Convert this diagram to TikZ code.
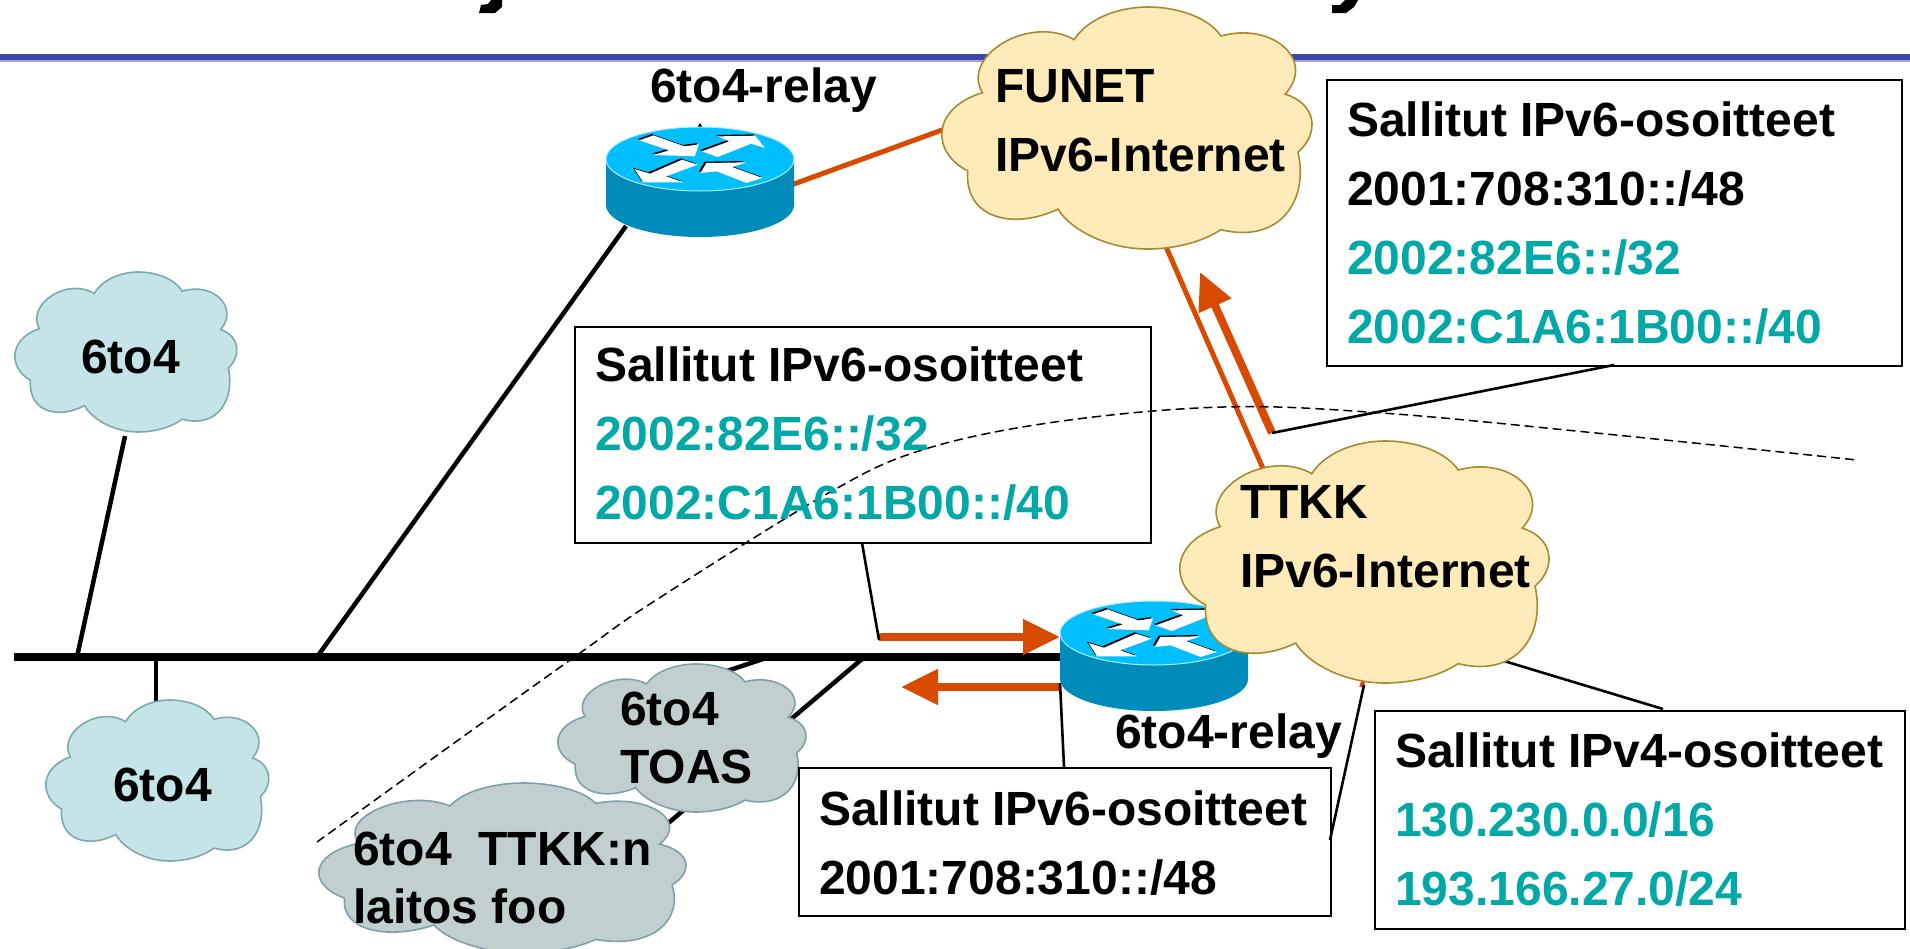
\documentclass[tikz,border=0pt]{standalone}
\usepackage{fontspec}
\setmainfont{Liberation Sans}
\usetikzlibrary{arrows.meta}
\definecolor{orng}{HTML}{D84A00}
\definecolor{teal2}{HTML}{00A8A8}
\definecolor{rule}{HTML}{4444A8}
\definecolor{yfill}{HTML}{FFEBB9}
\definecolor{ystroke}{HTML}{A88A30}
\definecolor{bfill}{HTML}{C5E4E7}
\definecolor{bstroke}{HTML}{7FA8AE}
\definecolor{gfill}{HTML}{C1CFD1}
\definecolor{gstroke}{HTML}{7FA0A6}
\definecolor{rtop}{HTML}{00BFFF}
\definecolor{rbody}{HTML}{008CBB}
\tikzset{
 x=1pt,y=-1pt,
 lab/.style={font=\bfseries\fontsize{48}{69}\selectfont,inner sep=0pt,anchor=north west,align=left,text=black},
 labtight/.style={lab,font=\bfseries\fontsize{48}{57.5}\selectfont},
 infobox/.style={draw=black,line width=2pt,fill=white,inner sep=0pt,anchor=north west},
 thinline/.style={draw=black,line width=2.6pt},
 heavy/.style={draw=black,line width=4.5pt},
 orthin/.style={draw=orng,line width=5pt},
 orarrow/.style={draw=orng,line width=8pt,-{Triangle[length=37pt,width=34pt,fill=orng]}},
}
\newcommand\teal[1]{\textcolor{teal2}{#1}}
% name, x0, y0, w, h, fill, stroke
\newcommand\cloudshape[7]{%
 \pgfmathsetmacro\cx{#4/100}\pgfmathsetmacro\cy{#5/100}%
 \path[draw=#7,fill=#6,line width=1.6pt,shift={(#2,#3)},xscale=\cx,yscale=\cy]
  (36,13.5) .. controls (40,4) and (49,0) .. (56,0)
  .. controls (65,0) and (73,5) .. (76,12)
  .. controls (90,6) and (102,22) .. (93.5,36)
  .. controls (102,40) and (103,52) .. (97,60)
  .. controls (100,80) and (92,98) .. (76,92)
  .. controls (70,98) and (62,100) .. (56,100)
  .. controls (45,100) and (35,92) .. (31.6,83.5)
  .. controls (20,92) and (6,88) .. (7,67.7)
  .. controls (-3,60) and (-3,42) .. (11,35.4)
  .. controls (5,20) and (24,3) .. (36,13.5) -- cycle;
 \pgfmathsetmacro\mx{#2+#4/2}\pgfmathsetmacro\my{#3+#5/2}%
 \node[inner sep=0pt,minimum width=#4pt,minimum height=#5pt] (#1) at (\mx,\my) {};
}
\newcommand\rarrows[1]{%
 \fill[#1] (243,422)--(268,407)--(322,440)--(347,434)--(340,470)--(268,466)--(295,452)--cycle;
 \fill[#1] (352,455)--(400,425)--(380,410)--(445,408)--(462,445)--(438,432)--(380,472)--cycle;
 \fill[#1] (318,480)--(345,495)--(290,530)--(320,548)--(250,548)--(235,508)--(262,522)--cycle;
 \fill[#1] (350,520)--(360,490)--(430,488)--(405,502)--(458,535)--(430,550)--(378,515)--cycle;
}
% name, cx, cy (centre of the top ellipse)
\newcommand\router[3]{%
 \fill[rbody] (#2-94,#3) -- (#2-94,#3+46) arc[start angle=180,end angle=0,x radius=94,y radius=32] -- (#2+94,#3) -- cycle;
 \fill[rtop,draw=white!70!rtop,line width=1pt] (#2,#3) ellipse[x radius=94,y radius=32];
 \begin{scope}[shift={(#2,#3)},xscale=.574,yscale=.333,shift={(-349,-478)}]
  \begin{scope}[shift={(-3,-4)}]\rarrows{black}\end{scope}
  \rarrows{white}
 \end{scope}
 \node[inner sep=0pt,minimum width=188pt,minimum height=110pt] (#1) at (#2,#3+23) {};
}
\begin{document}
\begin{tikzpicture}
\useasboundingbox (0,0) rectangle (1910,948);
\clip (0,0) rectangle (1910,948);
\fill[white] (0,0) rectangle (1910,948);
% clipped title remnants
\fill[black] (502,0) -- (502,7) -- (495,13) -- (479,13) -- (481,5) -- (488,4) -- (491,0) -- cycle;
\fill[black] (1358,0) -- (1354,7) -- (1346,13) -- (1332,13) -- (1332,5) -- (1340,5) -- (1345,0) -- cycle;
% rule
\fill[rule] (0,54) rectangle (1910,60);
\fill[rule!50!white] (0,60) rectangle (1910,61.5);
% named points
\coordinate (busL) at (14,657);
\coordinate (busR) at (1070,657);
\coordinate (ba) at (77,657);
\coordinate (bb) at (156,657);
\coordinate (bc) at (317,657);
\coordinate (bd) at (763,659);
\coordinate (be) at (862,659);
\coordinate (jb2) at (879,637);
\coordinate (ja1) at (1272,433);
\coordinate (lTOAS) at (700,680);
\coordinate (lFUNa) at (960,123.5);
\coordinate (lFUNb) at (1163,240);
\coordinate (lTTK) at (1268,480);
\coordinate (r1in) at (750,200);
\coordinate (r2low) at (1060,687);
\coordinate (cloudTip) at (1364,680);
\coordinate (laitosIn) at (640,847);
\coordinate (arrL) at (901,687);
\coordinate (arrT) at (1200,272);
\coordinate (arrR) at (1060,637);
\coordinate (b4in) at (1504,661);
% bus
\draw[draw=black,line width=8pt] (busL) -- (busR);
% heavy lines
\draw[heavy] (ba) -- (125,436);
\draw[heavy] (bb) -- (156,705);
\draw[heavy] (bc) -- (626,226);
\draw[heavy] (bd) -- (lTOAS);
\draw[heavy] (be) -- (laitosIn);
% clouds behind
\cloudshape{sixa}{15}{272}{220}{160}{bfill}{bstroke}
\cloudshape{sixb}{46}{700}{221}{161}{bfill}{bstroke}
\cloudshape{laitos}{319}{783}{364}{170}{gfill}{gstroke}
\cloudshape{toas}{558}{664}{246}{148}{gfill}{gstroke}
% boxes
\node[infobox,minimum width=576pt,minimum height=216pt] (box2) at (574,326) {};
\node[infobox,minimum width=575pt,minimum height=286pt] (box1) at (1326,79) {};
\node[infobox,minimum width=532pt,minimum height=148pt] (box3) at (798,767) {};
\node[infobox,minimum width=530pt,minimum height=218pt] (box4) at (1374,710) {};
% connectors orange
\draw[orthin] (r1in) -- (lFUNa);
\draw[orthin] (lFUNb) -- (lTTK);
\draw[orarrow] (ja1) -- (arrT);
\draw[orarrow] (jb2) -- (arrR);
\draw[orarrow] (r2low) -- (arrL);
\draw[draw=orng,line width=4pt] (cloudTip) -- (1361,687);
% thin callouts
\draw[thinline] (862,543) -- (879,640);
\draw[thinline] (1614,365) -- (ja1);
\draw[thinline] (1060,683) -- (1064,767);
\draw[thinline] (1364,685) -- (1330,840);
\draw[thinline] (b4in) -- (1663,709);
% routers
\fill[black] (697,128) -- (700,123) -- (703,128) -- cycle;
\router{rone}{700}{159}
\router{rtwo}{1154}{633}
% clouds front
\cloudshape{funet}{942}{7}{367}{242}{yfill}{ystroke}
\cloudshape{ttkk}{1180}{441}{366}{242}{yfill}{ystroke}
% dashed
\draw[draw=black,line width=1.5pt,dash pattern=on 9pt off 5pt] plot[smooth,tension=.6] coordinates {(317,842) (450,746) (580,653) (653,602) (825,495) (922,450) (1055,422) (1223,407) (1382,413) (1596,433) (1857,460)};
% labels
\node[lab] (t1) at (650,68) {6to4-relay};
\node[lab] (t2) at (1115,714) {6to4-relay};
\node[lab] (tf) at (995,69) {FUNET\\IPv6-Internet};
\node[lab] (tt) at (1240,485) {TTKK\\IPv6-Internet};
\node[lab] (ta) at (81,340) {6to4};
\node[lab] (tb) at (113,768) {6to4};
\node[labtight] (tc) at (620,692) {6to4\\TOAS};
\node[labtight] (td) at (353,832) {6to4~~TTKK:n\\laitos foo};
\node[lab] (x1) at (1347,102) {Sallitut IPv6-osoitteet\\2001:708:310::/48\\\teal{2002:82E6::/32}\\\teal{2002:C1A6:1B00::/40}};
\node[lab] (x2) at (595,347) {Sallitut IPv6-osoitteet\\\teal{2002:82E6::/32}\\\teal{2002:C1A6:1B00::/40}};
\node[lab] (x3) at (819,791) {Sallitut IPv6-osoitteet\\2001:708:310::/48};
\node[lab] (x4) at (1395,733) {Sallitut IPv4-osoitteet\\\teal{130.230.0.0/16}\\\teal{193.166.27.0/24}};
\end{tikzpicture}
\end{document}
